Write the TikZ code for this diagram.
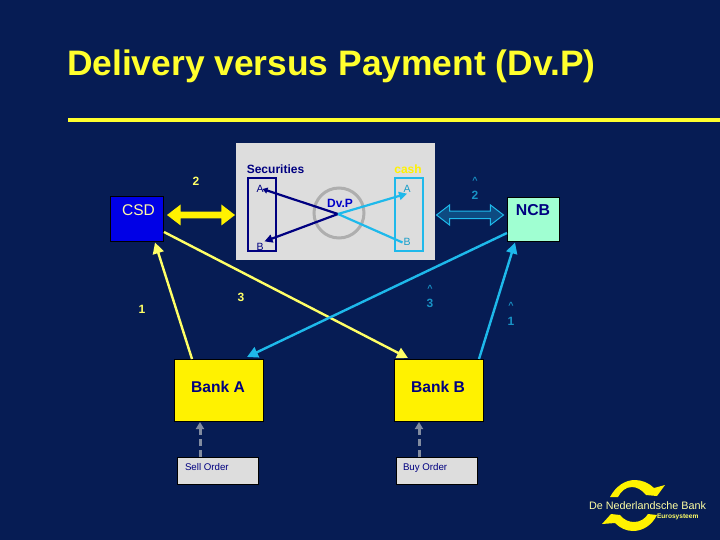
\documentclass[tikz,border=0pt]{standalone}
\usepackage{fontspec}
\setmainfont{Liberation Sans}
\usetikzlibrary{arrows.meta,shapes.arrows}
\definecolor{bgnavy}{RGB}{6,28,84}
\definecolor{panelgray}{RGB}{221,221,221}
\definecolor{inkblue}{RGB}{0,0,128}
\definecolor{skyline}{RGB}{30,185,235}
\definecolor{softyel}{RGB}{255,255,102}
\definecolor{titleyel}{RGB}{255,255,45}
\definecolor{mint}{RGB}{160,255,210}
\definecolor{royal}{RGB}{0,0,230}
\definecolor{dashgray}{RGB}{130,140,160}
\tikzset{
  every node/.style={inner sep=0pt,outer sep=0pt},
  boxbase/.style={draw=black,line width=0.6pt,anchor=north west},
  bankbox/.style={boxbase,fill=yellow,minimum width=89pt,minimum height=62pt},
  banktext/.style={text=inkblue,font=\bfseries\fontsize{15.6}{18}\selectfont},
  orderbox/.style={boxbase,fill=panelgray,minimum width=81pt,minimum height=27pt},
  ordertext/.style={text=inkblue,font=\fontsize{9.7}{11}\selectfont,anchor=west},
  yelnum/.style={text=softyel,font=\bfseries\fontsize{12}{14}\selectfont},
  skynum/.style={text=skyline!75!bgnavy,font=\bfseries\fontsize{12}{14}\selectfont},
  caret/.style={text=skyline!75!bgnavy,font=\bfseries\fontsize{9}{10}\selectfont},
  yelarrow/.style={draw=softyel,line width=2.4pt,-{Triangle[length=11pt,width=11pt]}},
  skyarrow/.style={draw=skyline,line width=2.4pt,-{Triangle[length=11pt,width=11pt]}},
  navyarrow/.style={draw=inkblue,line width=2.2pt},
  skythin/.style={draw=skyline,line width=2.2pt},
  orderarrow/.style={draw=dashgray,line width=3pt,dash pattern=on 7pt off 4pt,-{Triangle[length=7pt,width=8pt]}},
  acct/.style={font=\fontsize{10.5}{12}\selectfont}
}
\begin{document}
\begin{tikzpicture}[x=1pt,y=-1pt]
\useasboundingbox (0,0) rectangle (720,540);
\fill[bgnavy] (0,0) rectangle (720,540);
\node[anchor=base west,text=titleyel,font=\bfseries\fontsize{35.4}{40}\selectfont] (title) at (67,76) {Delivery versus Payment (Dv.P)};
\coordinate (ruleL) at (68,120);
\coordinate (ruleR) at (720,120);
\draw[titleyel,line width=3.4pt] (ruleL) -- (ruleR);

% panel
\node[anchor=north west,fill=panelgray,minimum width=199pt,minimum height=117pt] (panel) at (236,143) {};
\node[draw=gray!50!panelgray,line width=3pt,circle,minimum size=50pt] (ring) at (339,213) {};
\node[text=royal!70!inkblue,font=\bfseries\fontsize{12}{14}\selectfont] (dvp) at (340,203) {Dv.P};
\coordinate (hub) at (338,214);
\node[anchor=north west,draw=inkblue,line width=1.6pt,minimum width=28pt,minimum height=73pt] (secbox) at (248,178) {};
\node[anchor=north west,draw=skyline,line width=1.6pt,minimum width=28pt,minimum height=73pt] (cashbox) at (395,178) {};
\node[text=inkblue,font=\bfseries\fontsize{12}{14}\selectfont] (sec) at (275.5,169) {Securities};
\node[text=yellow,font=\bfseries\fontsize{12}{14}\selectfont] (cash) at (408,169) {cash};
\node[acct,text=inkblue] (sa) at (260,189) {A};
\node[acct,text=inkblue] (sb) at (260,247) {B};
\node[acct,text=skyline!85!black] (ca) at (407,189) {A};
\node[acct,text=skyline!85!black] (cb) at (407,241.5) {B};
\draw[navyarrow,-{Triangle[length=5pt,width=6pt]}] (hub) -- ([xshift=-1pt]sa.east);
\draw[navyarrow,-{Triangle[length=8pt,width=8pt]}] (hub) -- ([xshift=1pt,yshift=2pt]sb.north east);
\draw[skythin,-{Triangle[length=8pt,width=8pt]}] (hub) -- ([yshift=-1pt]ca.south);
\draw[skythin] (hub) -- ([xshift=-1pt,yshift=-1pt]cb.west);

% top boxes
\node[anchor=north west,draw=black,fill=royal,minimum width=53pt,minimum height=45pt] (csd) at (110,196) {};
\node[text=yellow!35!white,font=\fontsize{15.5}{18}\selectfont] (csdt) at (138.5,210.5) {CSD};
\node[anchor=north west,draw=black,line width=0.8pt,fill=mint,minimum width=52pt,minimum height=44pt] (ncb) at (507,197) {};
\node[text=inkblue,font=\bfseries\fontsize{15.8}{18}\selectfont] (ncbt) at (533,210.5) {NCB};

% double arrows
\node[double arrow,fill=yellow,draw=none,minimum width=21pt,double arrow head extend=5.5pt,double arrow tip angle=75,minimum height=68pt,inner sep=2.5pt] (secarrow) at (201,215) {};
\node[double arrow,fill=bgnavy!70!skyline,draw=skyline,line width=1pt,minimum width=20pt,double arrow head extend=5pt,double arrow tip angle=75,minimum height=67pt,inner sep=2.5pt] (casharrow) at (470,215) {};

% banks
\node[bankbox] (banka) at (174,359) {};
\node[bankbox] (bankb) at (394,359) {};
\node[banktext] (bat) at (218,386.5) {Bank A};
\node[banktext] (bbt) at (438,386.5) {Bank B};
\node[orderbox] (sell) at (177,457) {};
\node[orderbox] (buy) at (396,457) {};
\node[ordertext] (sellt) at (185,467.5) {Sell Order};
\node[ordertext] (buyt) at (403,467.5) {Buy Order};

% connectors
\draw[orderarrow] ([xshift=23pt]sell.north west) -- ([xshift=26pt,yshift=-1pt]banka.south west);
\draw[orderarrow] ([xshift=23pt]buy.north west) -- ([xshift=25pt,yshift=-1pt]bankb.south west);
\draw[yelarrow] ([xshift=18pt]banka.north west) -- ([xshift=-8pt,yshift=-1.5pt]csd.south east);
\draw[skyarrow] ([xshift=-4pt]bankb.north east) -- ([xshift=8pt,yshift=-1.5pt]ncb.south west);
\draw[yelarrow] ([xshift=1pt,yshift=9pt]csd.south east) -- ([xshift=14pt,yshift=1pt]bankb.north west);
\draw[skyarrow] ([yshift=8pt]ncb.south west) -- ([xshift=-16pt,yshift=2pt]banka.north east);

% numbers
\node[yelnum] (n2) at (196,181) {2};
\node[yelnum] (n3) at (241,297) {3};
\node[yelnum] (n1) at (142,309) {1};
\node[caret] (c2) at (475,180) {\textasciicircum};
\node[skynum] (m2) at (475,195) {2};
\node[caret] (c3) at (430,288) {\textasciicircum};
\node[skynum] (m3) at (430,303) {3};
\node[caret] (c1) at (511,305) {\textasciicircum};
\node[skynum] (m1) at (511,321) {1};

% logo
\fill[yellow] (610,497) .. controls (616,486) and (625,480) .. (635,480)
  .. controls (642,480) and (649,483) .. (654,488) -- (665,485) -- (657,496) -- (646,495)
  .. controls (642,490) and (637,487) .. (632,487) .. controls (626,487) and (621,491) .. (618,497) -- cycle;
\fill[yellow] (602,524) -- (611,514) -- (620,515) .. controls (624,520) and (629,522) .. (634,522)
  .. controls (640,522) and (645,519) .. (648,514) -- (657,515) .. controls (652,525) and (643,531) .. (633,531)
  .. controls (626,531) and (620,528) .. (615,523) -- cycle;
\node[anchor=base west,text=softyel!60!white,font=\fontsize{10.8}{12}\selectfont] (dnb) at (589,509) {De Nederlandsche Bank};
\node[anchor=base west,text=softyel,font=\bfseries\fontsize{6.6}{8}\selectfont] (euro) at (657,518) {Eurosysteem};
\end{tikzpicture}
\end{document}
